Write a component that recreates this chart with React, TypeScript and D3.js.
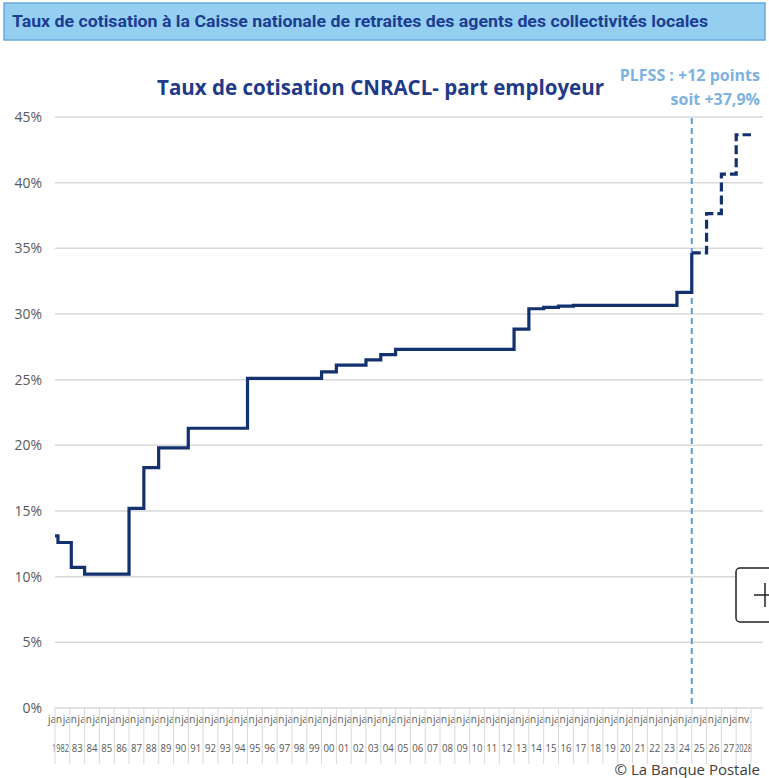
import { useEffect } from "react";
import * as d3 from "d3";

// steps of the employer rate (start date as fractional year, rate in %)
const stepYears = [1982, 1982.2, 1983.1, 1984, 1987, 1988, 1989, 1991, 1995, 2000, 2001, 2003, 2004, 2005, 2013, 2014, 2015, 2016, 2017, 2024, 2025];
const stepRates = [13.1, 12.6, 10.7, 10.2, 15.2, 18.3, 19.8, 21.3, 25.1, 25.6, 26.1, 26.5, 26.9, 27.3, 28.85, 30.4, 30.5, 30.6, 30.65, 31.65, 34.65];

// PLFSS projection (dashed)
const projYears = [2025, 2026, 2027, 2028, 2029];
const projRates = [34.65, 37.65, 40.65, 43.65, 43.65];

const yearLabels = ["1982", "83", "84", "85", "86", "87", "88", "89", "90", "91", "92", "93", "94", "95", "96", "97", "98", "99", "00", "01", "02", "03", "04", "05", "06", "07", "08", "09", "10", "11", "12", "13", "14", "15", "16", "17", "18", "19", "20", "21", "22", "23", "24", "25", "26", "27", "2028"];
const yTicks = [0, 5, 10, 15, 20, 25, 30, 35, 40, 45];

const W = 769;
const H = 778;
const NAVY = "#13306f";
const LIGHT_BLUE = "#5b9bd5";

const App = () => {
  useEffect(() => {
    document.body.style.margin = "0";
  }, []);

  const x = d3.scaleLinear().domain([1982, 2029]).range([55, 751]);
  const y = d3.scaleLinear().domain([0, 45]).range([708, 117]);

  const line = d3
    .line<[number, number]>()
    .x((d) => x(d[0]))
    .y((d) => y(d[1]))
    .curve(d3.curveStepAfter);

  const solidPts: [number, number][] = stepYears.map((yr, i) => [yr, stepRates[i]]);
  const projPts: [number, number][] = projYears.map((yr, i) => [yr, projRates[i]]);

  const cellW = x(1983) - x(1982);
  const last = yearLabels.length - 1;

  return (
    <div style={{ position: "absolute", left: 0, top: 0 }}>
      <svg width={W} height={H} style={{ display: "block", background: "#fff" }}>
        {/* header banner */}
        <rect x={4} y={3} width={761} height={37} fill="#94cff1" stroke="#6aa9dc" strokeWidth={1.5} />
        <text
          x={12}
          y={27}
          fontFamily="Roboto, sans-serif"
          fontWeight={700}
          fontSize={16}
          fill="#1c3d91"
          textLength={696}
          lengthAdjust="spacingAndGlyphs"
        >
          Taux de cotisation à la Caisse nationale de retraites des agents des collectivités locales
        </text>

        {/* chart title */}
        <text
          x={157}
          y={95}
          fontFamily="'Open Sans', sans-serif"
          fontWeight={700}
          fontSize={22}
          fill="#1f3a88"
          textLength={447}
          lengthAdjust="spacingAndGlyphs"
        >
          Taux de cotisation CNRACL- part employeur
        </text>

        {/* PLFSS annotation */}
        <g fontFamily="'Open Sans', sans-serif" fontWeight={700} fontSize={16} fill="#7db2e2" textAnchor="end">
          <text x={760} y={81}>PLFSS : +12 points</text>
          <text x={760} y={105}>soit +37,9%</text>
        </g>

        {/* horizontal gridlines + y labels */}
        {yTicks.map((t) => (
          <g key={t}>
            <line x1={55} x2={763} y1={y(t)} y2={y(t)} stroke="#d9d9d9" strokeWidth={1.5} />
            <text
              x={42}
              y={y(t)}
              dy="0.35em"
              textAnchor="end"
              fontFamily="'Open Sans', sans-serif"
              fontSize={14}
              fill="#595959"
            >
              {t}%
            </text>
          </g>
        ))}

        {/* x labels, first row: truncated "janv." */}
        {yearLabels.map((lab, i) => {
          const x0 = x(1982 + i) - 7;
          return i === last ? (
            <text key={"j" + i} x={x0} y={723} fontFamily="'Open Sans', sans-serif" fontSize={10.5} fill="#595959">
              janv.
            </text>
          ) : (
            <text
              key={"j" + i}
              x={x0}
              y={723}
              fontFamily="'Open Sans', sans-serif"
              fontSize={10.5}
              fill="#595959"
              textLength={cellW - 0.6}
              lengthAdjust="spacingAndGlyphs"
            >
              jan
            </text>
          );
        })}
        {/* x labels, second row: years */}
        {yearLabels.map((lab, i) => {
          const cx = x(1982 + i) + cellW / 2;
          const len = lab.length === 4 ? 17 : 11;
          const shift = i === 0 ? -2 : 0;
          return (
            <text
              key={"y" + i}
              x={cx - len / 2 + shift}
              y={752}
              fontFamily="'Open Sans', sans-serif"
              fontSize={11}
              fill="#595959"
              textLength={len}
              lengthAdjust="spacingAndGlyphs"
            >
              {lab}
            </text>
          );
        })}

        {/* category tick lines */}
        {d3.range(1982, 2030).map((yr) => (
          <line key={yr} x1={x(yr)} x2={x(yr)} y1={708} y2={764} stroke="#d9d9d9" strokeWidth={1} />
        ))}

        {/* PLFSS marker */}
        <line
          x1={x(2025)}
          x2={x(2025)}
          y1={118}
          y2={708}
          stroke={LIGHT_BLUE}
          strokeWidth={2}
          strokeDasharray="6 4"
        />

        {/* rate series */}
        <path d={line(solidPts) ?? ""} fill="none" stroke={NAVY} strokeWidth={3.2} />
        <path d={line(projPts) ?? ""} fill="none" stroke={NAVY} strokeWidth={3.2} strokeDasharray="9 4" />

        {/* zoom button (cut off at the edge) */}
        <rect x={736} y={568} width={44} height={54} rx={4} fill="#fff" stroke="#222" strokeWidth={1.5} />
        <line x1={754} x2={769} y1={595} y2={595} stroke="#222" strokeWidth={1.5} />
        <line x1={765} x2={765} y1={583} y2={607} stroke="#222" strokeWidth={1.5} />

        {/* credit */}
        <text x={760} y={775} textAnchor="end" fontFamily="'Open Sans', sans-serif" fontSize={15} fill="#404040">
          © La Banque Postale
        </text>
      </svg>
    </div>
  );
};

export default App;
